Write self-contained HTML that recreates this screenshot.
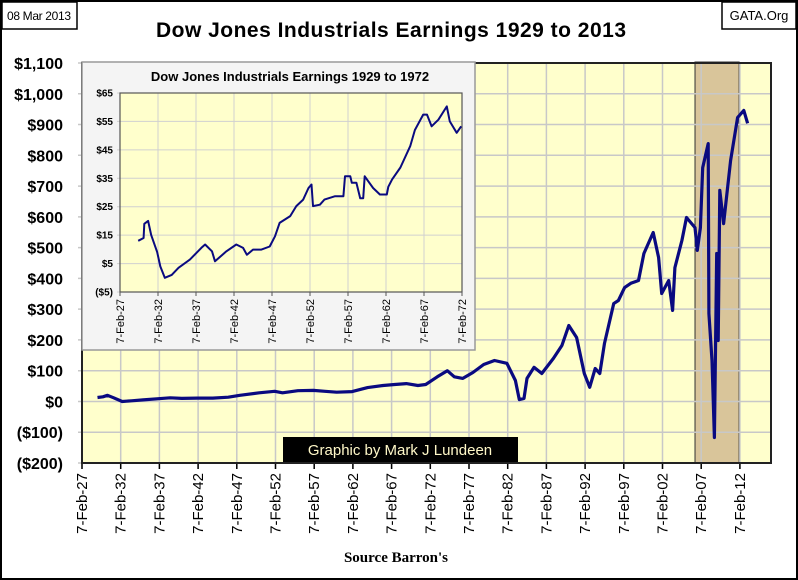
<!DOCTYPE html>
<html><head><meta charset="utf-8"><style>
body{margin:0;background:#fff;}
#wrap{position:relative;width:798px;height:580px;overflow:hidden;font-family:"Liberation Sans",sans-serif;}
svg text{font-family:"Liberation Sans",sans-serif;}
</style></head><body>
<div id="wrap">
<svg id="svg" width="798" height="580" xmlns="http://www.w3.org/2000/svg">
<rect x="1" y="1" width="796" height="578" fill="#fff" stroke="#000" stroke-width="2"/>
<rect x="2" y="2" width="75" height="27" fill="#fff" stroke="#000" stroke-width="1.5"/>
<text x="39" y="20" font-size="12" text-anchor="middle" textLength="64">08 Mar 2013</text>
<rect x="722" y="2" width="74" height="27" fill="#fff" stroke="#000" stroke-width="1.5"/>
<text x="759" y="20" font-size="13" text-anchor="middle">GATA.Org</text>
<text x="391" y="37" font-size="21" font-weight="bold" text-anchor="middle" textLength="470">Dow Jones Industrials Earnings 1929 to 2013</text>
<g id="main"></g>
<g id="inset"></g>
<text x="396" y="562" font-size="15" font-weight="bold" text-anchor="middle" style="font-family:'Liberation Serif',serif">Source Barron's</text>
</svg>
</div>
<script>
// ---- main chart data ----
const mainYears=[1929.1,1929.8,1930.4,1931.2,1932.3,1933.5,1935,1937,1938.5,1940,1942,1944,1946,1947.5,1950,1952,1953,1955,1957,1958.5,1960,1962,1964,1966,1967.5,1969,1970.5,1971.5,1973,1974.3,1975.2,1976.3,1977.6,1979,1980.4,1982,1983.1,1983.6,1984.2,1984.6,1985.5,1986.5,1988,1989.1,1990,1991,1992,1992.7,1993.4,1994,1994.6,1995.8,1996.4,1997.2,1998,1999,1999.7,2000.9,2001.6,2002,2002.9,2003.4,2003.7,2004.6,2005.2,2006.3,2006.6,2007,2007.3,2008,2008.1,2008.5,2008.8,2009.1,2009.3,2009.5,2010,2010.9,2011.8,2012.6,2013.1];
const mainValues=[13,15,20,12,0,2,5,9,12,10,11,11,14,20,28,33,28,35,36,33,30,32,45,52,55,58,52,55,80,100,80,75,94,120,133,124,68,6,10,75,111,91,140,182,247,208,91,46,107,91,189,318,328,370,384,393,481,549,468,351,393,296,435,523,598,565,491,565,760,838,286,133,-117,481,198,686,578,783,923,946,904];
const mainYTicks=[1100,1000,900,800,700,600,500,400,300,200,100,0,-100,-200];
const mainYLabels=["$1,100","$1,000","$900","$800","$700","$600","$500","$400","$300","$200","$100","$0","($100)","($200)"];
const mainXTicks=[1927,1932,1937,1942,1947,1952,1957,1962,1967,1972,1977,1982,1987,1992,1997,2002,2007,2012];
const mainXLabels=["7-Feb-27","7-Feb-32","7-Feb-37","7-Feb-42","7-Feb-47","7-Feb-52","7-Feb-57","7-Feb-62","7-Feb-67","7-Feb-72","7-Feb-77","7-Feb-82","7-Feb-87","7-Feb-92","7-Feb-97","7-Feb-02","7-Feb-07","7-Feb-12"];
const recession=[2006.3,2012];
// ---- inset data ----
const insetYears=[1929.5,1930.2,1930.3,1930.8,1931.2,1932,1932.4,1933,1933.9,1934.8,1936.3,1937.8,1938.3,1939.2,1939.6,1941.1,1942.4,1943.3,1943.8,1944.6,1945.7,1946.8,1947.5,1948.1,1949.5,1950.3,1951.2,1951.9,1952.3,1952.5,1953.4,1954,1955.4,1956.5,1956.7,1957.4,1957.6,1958.2,1958.7,1959.1,1959.3,1960.4,1961.3,1962.2,1962.4,1962.9,1964,1965.3,1965.9,1967,1967.5,1968.1,1969,1970.1,1970.5,1971.4,1972];
const insetValues=[13,14,19,20,15,9,4,0,1,3.5,6.4,10.5,11.7,9.3,5.8,9.3,11.7,10.5,8.1,9.9,9.9,11,14.6,19.3,21.7,25.2,27.5,31.6,32.8,25.2,25.7,27.5,28.7,28.7,35.7,35.7,33.4,33.4,28,28,35.7,31.6,29.3,29.3,32,34.6,38.8,46.4,52,57.4,57.4,53.3,55.6,60.3,55,51,53.3];
const insetYTicks=[65,55,45,35,25,15,5,-5];
const insetYLabels=["$65","$55","$45","$35","$25","$15","$5","($5)"];
const insetXTicks=[1927,1932,1937,1942,1947,1952,1957,1962,1967,1972];
const insetXLabels=["7-Feb-27","7-Feb-32","7-Feb-37","7-Feb-42","7-Feb-47","7-Feb-52","7-Feb-57","7-Feb-62","7-Feb-67","7-Feb-72"];

const NS="http://www.w3.org/2000/svg";
function mk(p,t,a){const e=document.createElementNS(NS,t);for(const k in a)e.setAttribute(k,a[k]);p.appendChild(e);return e;}

const L=82,R=771,T=63,B=463;
const mx=y=>L+(y-1927.1)*(38.7/5);
const my=v=>T+(1100-v)*(B-T)/1300;
const gm=document.getElementById('main');
let e=mk(gm,'rect',{x:L,y:T,width:R-L,height:B-T,fill:'#ffffcc'});


e=mk(gm,'rect',{x:mx(recession[0]),y:T-1,width:mx(recession[1])-mx(recession[0]),height:B-T+1,fill:'#d9c59a',stroke:'#333','stroke-width':1});


mainYTicks.forEach((v,i)=>{
  const y=my(v);
  e=mk(gm,'line',{x1:L-4,x2:R,y1:y,y2:y,stroke:'#c8c8c8','stroke-width':1.5});
  
  
  e=mk(gm,'text',{x:63,y:y+6,'font-size':16,'font-weight':'bold','text-anchor':'end'});
  e.textContent=mainYLabels[i];
  
  
});
mainXTicks.forEach((yr,i)=>{
  const x=mx(yr+0.1);
  e=mk(gm,'line',{x1:x,x2:x,y1:T,y2:B+6,stroke:'#c8c8c8','stroke-width':1.5});
  
  
  mk(gm,'line',{x1:x,x2:x,y1:B,y2:B+6,stroke:'#000','stroke-width':1.5});
  e=mk(gm,'text',{x:0,y:0,'font-size':15,'text-anchor':'end',transform:`translate(${x+5},${B+10}) rotate(-90)`});
  e.textContent=mainXLabels[i];
  
  
});
mk(gm,'rect',{x:L,y:T,width:R-L,height:B-T,fill:'none',stroke:'#222','stroke-width':2});
e=mk(gm,'polyline',{points:mainYears.map((y,i)=>mx(y).toFixed(1)+','+my(mainValues[i]).toFixed(1)).join(' '),fill:'none',stroke:'#0a0a80','stroke-width':3.2,'stroke-linejoin':'round'});


e=mk(gm,'rect',{x:283,y:437,width:235,height:25,fill:'#000'});


e=mk(gm,'text',{x:400,y:455,'font-size':15,fill:'#fff8c8','text-anchor':'middle'});
e.textContent='Graphic by Mark J Lundeen';



const gi=document.getElementById('inset');
const IL=120,IR=462,IT=93,IB=292;
const ix=y=>IL+(y-1927.1)*(IR-IL)/45;
const iy=v=>IT+(65-v)*(IB-IT)/70;
e=mk(gi,'rect',{x:82,y:62,width:393,height:288,fill:'#f4f4f4',stroke:'#999','stroke-width':1.5});


e=mk(gi,'text',{x:290,y:81,'font-size':13,'font-weight':'bold','text-anchor':'middle'});
e.textContent='Dow Jones Industrials Earnings 1929 to 1972';


e=mk(gi,'rect',{x:IL,y:IT,width:IR-IL,height:IB-IT,fill:'#ffffcc'});


insetYTicks.forEach((v,i)=>{
  const y=iy(v);
  mk(gi,'line',{x1:IL-3,x2:IR,y1:y,y2:y,stroke:'#d0d0d0','stroke-width':1});
  e=mk(gi,'text',{x:113,y:y+3.5,'font-size':10,'font-weight':'bold','text-anchor':'end'});
  e.textContent=insetYLabels[i];
  
  
});
insetXTicks.forEach((yr,i)=>{
  const x=ix(yr+0.1);
  mk(gi,'line',{x1:x,x2:x,y1:IT,y2:IB+4,stroke:'#d0d0d0','stroke-width':1});
  mk(gi,'line',{x1:x,x2:x,y1:IB,y2:IB+4,stroke:'#555','stroke-width':1});
  e=mk(gi,'text',{x:0,y:0,'font-size':11,'text-anchor':'end',transform:`translate(${x+4},${IB+7}) rotate(-90)`});
  e.textContent=insetXLabels[i];
  
  
});
mk(gi,'rect',{x:IL,y:IT,width:IR-IL,height:IB-IT,fill:'none',stroke:'#555','stroke-width':1.2});
e=mk(gi,'polyline',{points:insetYears.map((y,i)=>ix(y).toFixed(1)+','+iy(insetValues[i]).toFixed(1)).join(' '),fill:'none',stroke:'#0a0a80','stroke-width':2,'stroke-linejoin':'round'});


</script>
</body></html>
